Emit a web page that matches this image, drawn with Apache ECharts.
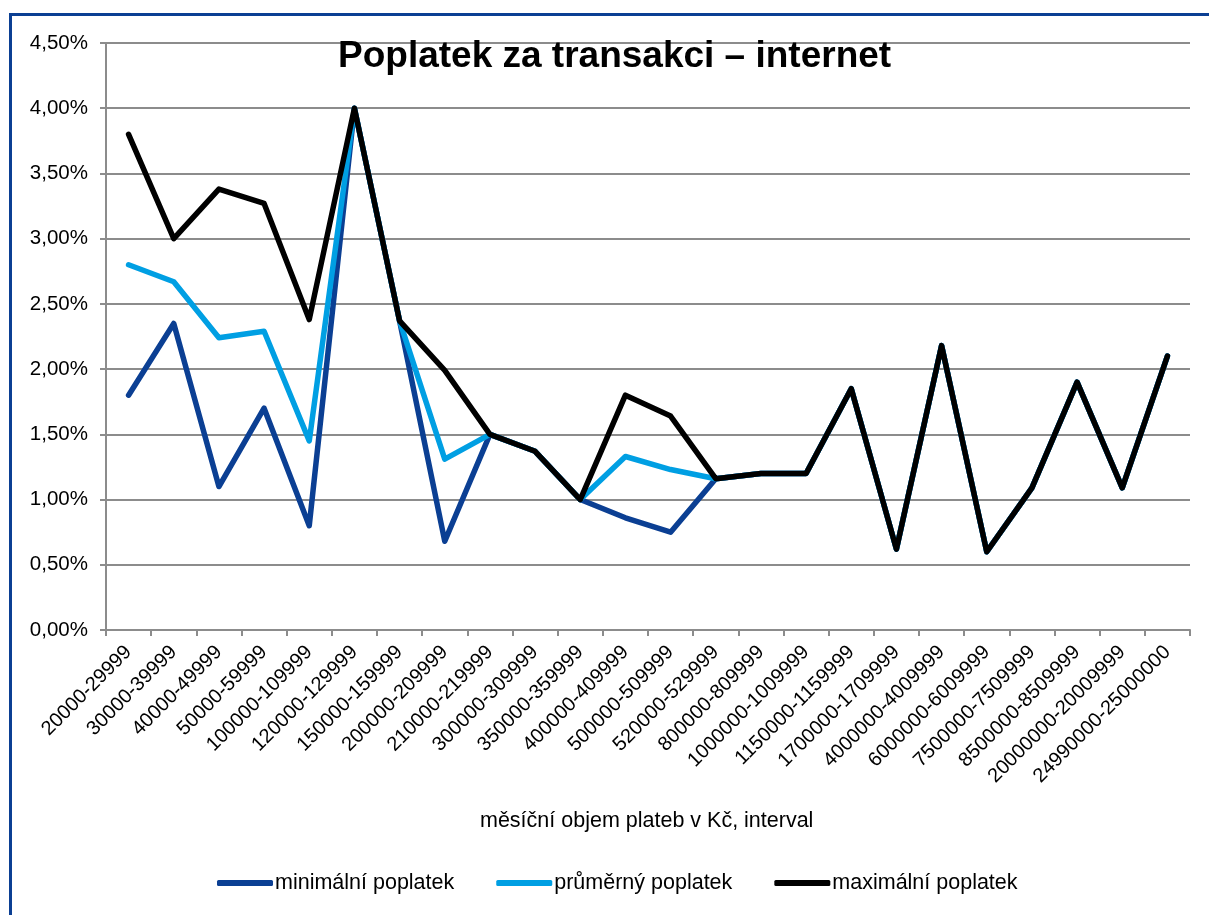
<!DOCTYPE html>
<html>
<head>
<meta charset="utf-8">
<script src="https://cdn.jsdelivr.net/npm/echarts@6/dist/echarts.min.js"></script>
<style>
html,body{margin:0;padding:0;background:#fff;}
#chart{width:1209px;height:915px;}
</style>
</head>
<body>
<div id="chart"></div>
<script>
const categories = ["20000-29999","30000-39999","40000-49999","50000-59999","100000-109999","120000-129999","150000-159999","200000-209999","210000-219999","300000-309999","350000-359999","400000-409999","500000-509999","520000-529999","800000-809999","1000000-1009999","1150000-1159999","1700000-1709999","4000000-4009999","6000000-6009999","7500000-7509999","8500000-8509999","20000000-20009999","24990000-25000000"];
const minFee = [1.80,2.35,1.10,1.70,0.80,4.00,2.37,0.68,1.50,1.37,1.00,0.86,0.75,1.16,1.20,1.20,1.85,0.62,2.18,0.60,1.09,1.90,1.09,2.10];
const avgFee = [2.80,2.67,2.24,2.29,1.45,4.00,2.37,1.31,1.50,1.37,1.00,1.33,1.23,1.16,1.20,1.20,1.85,0.62,2.18,0.60,1.09,1.90,1.09,2.10];
const maxFee = [3.80,3.00,3.38,3.27,2.38,4.00,2.37,1.99,1.50,1.37,1.00,1.80,1.64,1.16,1.20,1.20,1.85,0.62,2.18,0.60,1.09,1.90,1.09,2.10];
const seriesNames = ["minimální poplatek","průměrný poplatek","maximální poplatek"];
const colors = ["#0B3F93","#009FE3","#000000"];

const chart = echarts.init(document.getElementById('chart'));
const font = 'Liberation Sans, Arial, sans-serif';
const mk = (name, data, color) => ({
  name, type: 'line', data, showSymbol: false, symbol: 'none',
  lineStyle: {color, width: 5.5, join: 'round', cap: 'round'},
  itemStyle: {color}, animation: false
});
chart.setOption({
  animation: false,
  textStyle: {fontFamily: font},
  title: {
    text: 'Poplatek za transakci – internet',
    left: 333, top: 33,
    textStyle: {fontSize: 37, fontWeight: 'bold', color: '#000', fontFamily: font}
  },
  graphic: [
    {type: 'rect', shape: {x: 10.5, y: 14.5, width: 1400, height: 1000},
     style: {fill: 'none', stroke: '#0B3F93', lineWidth: 3}, z: 100},
    {type: 'text', left: 480, top: 810, style: {text: 'měsíční objem plateb v Kč, interval', fontSize: 21.5, fill: '#000', fontFamily: font}}
  ],
  legend: {
    bottom: 16, left: 212,
    itemWidth: 56, itemHeight: 6, itemGap: 42,
    icon: 'roundRect',
    textStyle: {fontSize: 21.5, color: '#000', fontFamily: font, padding: [0,0,0,-3]},
    data: seriesNames
  },
  grid: {left: 106, right: 19, top: 43, bottom: 285, containLabel: false},
  xAxis: {
    type: 'category', data: categories, boundaryGap: true,
    axisLine: {lineStyle: {color: '#8c8c8c', width: 2}},
    axisTick: {show: true, length: 6, lineStyle: {color: '#8c8c8c', width: 2}, alignWithLabel: false},
    axisLabel: {rotate: 45, fontSize: 20, color: '#000', fontFamily: font, interval: 0, margin: 19}
  },
  yAxis: {
    type: 'value', min: 0, max: 4.5, interval: 0.5,
    axisLine: {show: true, lineStyle: {color: '#8c8c8c', width: 2}},
    axisTick: {show: true, length: 6, lineStyle: {color: '#8c8c8c', width: 2}},
    splitLine: {lineStyle: {color: '#8c8c8c', width: 2}},
    axisLabel: {fontSize: 20.5, color: '#000', fontFamily: font, margin: 18,
      formatter: v => v.toFixed(2).replace('.', ',') + '%'}
  },
  series: [
    mk(seriesNames[0], minFee, colors[0]),
    mk(seriesNames[1], avgFee, colors[1]),
    mk(seriesNames[2], maxFee, colors[2])
  ]
});
</script>
</body>
</html>
